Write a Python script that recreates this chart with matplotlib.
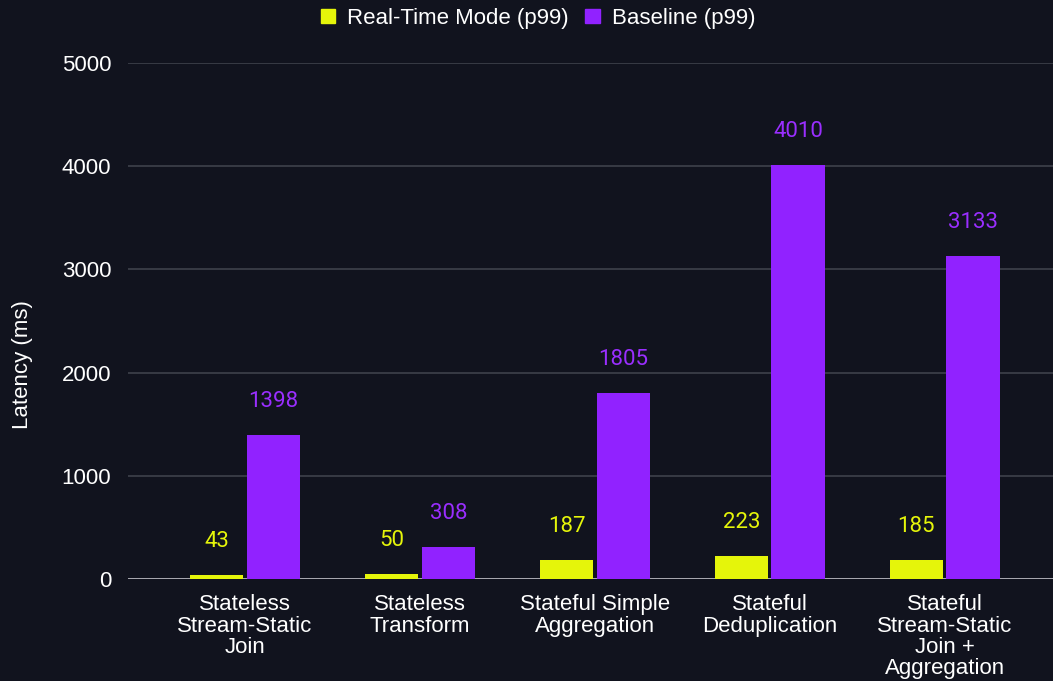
import matplotlib
matplotlib.use("Agg")
import matplotlib.pyplot as plt
import numpy as np
from matplotlib.patches import Patch

categories = ["Stateless\nStream-Static\nJoin", "Stateless\nTransform",
              "Stateful Simple\nAggregation", "Stateful\nDeduplication",
              "Stateful\nStream-Static\nJoin +\nAggregation"]
realtime = [43, 50, 187, 223, 185]
baseline = [1398, 308, 1805, 4010, 3133]
series_names = ["Real-Time Mode (p99)", "Baseline (p99)"]
yticks = [0, 1000, 2000, 3000, 4000, 5000]

BG = "#11131e"
YEL = "#e5f50a"
PUR = "#9122ff"
PUR_TXT = "#9a2eff"

plt.rcParams['font.family'] = ['Liberation Sans', 'DejaVu Sans']

fig = plt.figure(figsize=(10.53, 6.81), dpi=100, facecolor=BG)
ax = fig.add_axes([128/1053, (681-579)/681, 1 - 128/1053, (579-63)/681])
ax.set_facecolor(BG)

x = np.arange(len(categories))
w = 0.305
off = 0.162
b1 = ax.bar(x - off, realtime, w, color=YEL, zorder=3)
b2 = ax.bar(x + off, baseline, w, color=PUR, zorder=3)

for rects, vals, col in [(b1, realtime, YEL), (b2, baseline, PUR_TXT)]:
    for r, v in zip(rects, vals):
        ax.annotate(str(v), (r.get_x() + r.get_width()/2, v),
                    xytext=(0, 24), textcoords="offset points",
                    ha="center", va="center", color=col, fontsize=16,
                    family=["Roboto", "DejaVu Sans"], annotation_clip=False)

ax.set_xlim(-0.67, 4.62)
ax.set_ylim(0, 5000)
ax.set_yticks(yticks)
ax.set_yticklabels([str(t) for t in yticks])
ax.set_xticks(x)
ax.set_xticklabels(categories, linespacing=1.02, va="top")
ax.tick_params(axis="both", length=0, colors="white", labelsize=16)
ax.tick_params(axis="y", pad=12)
ax.tick_params(axis="x", pad=11)
ax.grid(axis="y", color="#3b3e48", linewidth=1.3, zorder=0)
ax.set_axisbelow(True)
for s in ax.spines.values():
    s.set_visible(False)
ax.axhline(0, color="#b4b4bc", linewidth=2, zorder=2)

ax.set_ylabel("Latency (ms)", color="white", fontsize=16)
ax.yaxis.set_label_coords(-0.103, 0.415)

handles = [Patch(facecolor=YEL, edgecolor=YEL), Patch(facecolor=PUR, edgecolor=PUR)]
fig.legend(handles, series_names, loc="upper center", bbox_to_anchor=(0.511, 1.018),
           ncol=2, frameon=False, fontsize=16, labelcolor="white",
           handlelength=0.65, handleheight=0.65, handletextpad=0.55, columnspacing=0.75)

fig.savefig("out.png", dpi=100, facecolor=BG)
